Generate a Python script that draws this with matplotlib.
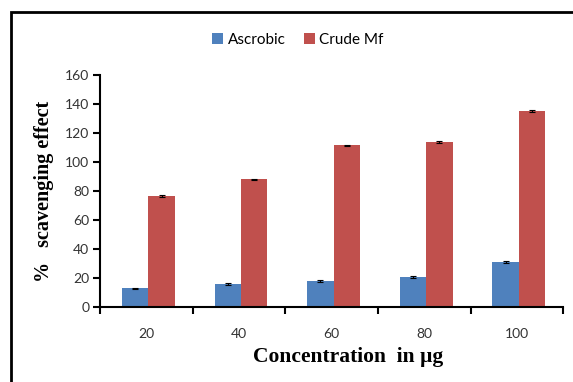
import matplotlib
matplotlib.use("Agg")
import matplotlib.pyplot as plt
import numpy as np
from matplotlib.patches import Rectangle

concentrations = ["20", "40", "60", "80", "100"]
ascorbic = [13, 15.8, 18, 20.8, 31]
ascorbic_err = [0.4, 0.6, 0.4, 0.6, 0.6]
crude_mf = [76.5, 88, 111.6, 113.8, 135]
crude_err = [0.7, 0.5, 0.4, 0.5, 0.5]

blue = "#4F81BD"
red = "#C0504D"

fig = plt.figure(figsize=(5.73, 3.82), dpi=100)
ax = fig.add_axes([0.175, 0.196, 0.808, 0.608])

x = np.arange(len(concentrations))
w = 0.285
off = 0.02
ax.bar(x - w / 2 + off, ascorbic, w, color=blue, label="Ascrobic",
       yerr=ascorbic_err, error_kw=dict(ecolor="black", elinewidth=0.8, capsize=2, capthick=0.8))
ax.bar(x + w / 2 + off, crude_mf, w, color=red, label="Crude Mf",
       yerr=crude_err, error_kw=dict(ecolor="black", elinewidth=0.8, capsize=2, capthick=0.8))

ax.set_xlim(-0.5, len(x) - 0.5)
ax.set_ylim(0, 160)
ax.set_yticks(np.arange(0, 161, 20))
ax.set_xticks(x)
ax.set_xticklabels(concentrations)
ax.set_xticks(np.arange(-0.5, len(x), 1), minor=True)
ax.tick_params(axis="x", which="major", length=0, pad=15)
ax.tick_params(axis="x", which="minor", length=5, width=1.5, direction="out")
ax.tick_params(axis="y", length=5, width=1.5, direction="out", pad=3)
for lab in ax.get_xticklabels() + ax.get_yticklabels():
    lab.set_fontfamily("Lato")
    lab.set_fontsize(10)
    lab.set_color("#333333")

for s in ["top", "right"]:
    ax.spines[s].set_visible(False)
ax.spines["left"].set_linewidth(1.5)
ax.spines["bottom"].set_linewidth(1.5)

ax.set_ylabel("%   scavenging effect", fontfamily="Liberation Serif", fontweight="bold",
              fontsize=14.5, labelpad=8)
ax.set_xlabel("Concentration  in µg", fontfamily="Liberation Serif", fontweight="bold",
              fontsize=15.5, labelpad=5)
ax.xaxis.label.set_x(0.535)

leg = fig.legend(loc="center", bbox_to_anchor=(0.52, 0.895), ncol=2, frameon=False,
                 prop={"family": "Lato", "size": 11}, handlelength=0.7, handleheight=0.7,
                 handletextpad=0.3, columnspacing=1.2)

fig.add_artist(Rectangle((11 / 573, -0.1), 1.2, 1 - 12 / 382 + 0.1, transform=fig.transFigure,
                         fill=False, edgecolor="black", linewidth=2))

fig.savefig("out.png", dpi=100)
